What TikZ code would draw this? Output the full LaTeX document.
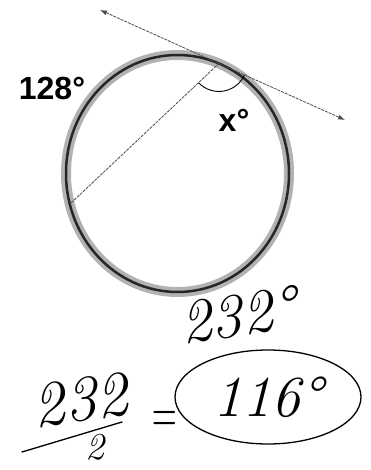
\documentclass[tikz,border=0pt]{standalone}
\usepackage{fontspec}
\newfontfamily\labelfont{Liberation Sans}
\usetikzlibrary{arrows.meta, positioning, shapes.geometric, calc}

\begin{document}
\begin{tikzpicture}[
    x=1pt, y=1pt,
    rim/.style={draw=gray!60, line width=10pt},
    rimcore/.style={draw=black!85, line width=2.5pt},
    thin/.style={draw=black!70, line width=0.8pt, dash pattern=on 3pt off 1pt},
    arrow/.style={{Latex[length=7pt,width=5pt]}-{Latex[length=7pt,width=5pt]}, thin},
    given/.style={font=\labelfont\bfseries\fontsize{32}{34}\selectfont, inner sep=0pt},
    hand/.style={font=\itshape\fontsize{62}{64}\selectfont, inner sep=0pt},
    ink/.style={draw=black, line width=1.3pt, line cap=round}
  ]
  \useasboundingbox (0,0) rectangle (370,470);

  % Circle and its points
  \coordinate (O) at (177.5,296.5);
  \draw[rim] (O) ellipse [x radius=111.5, y radius=118.5];
  \draw[rimcore] (O) ellipse [x radius=111.5, y radius=118.5];
  \coordinate (P) at ($(O)+({111.5*cos(68.2)},{118.5*sin(68.2)})$);
  \coordinate (Q) at ($(O)+({111.5*cos(195)},{118.5*sin(195)})$);
  \coordinate (tanL) at (100,460);
  \coordinate (tanR) at (345,350);

  % Tangent, chord and angle mark
  \draw[arrow] (tanL) -- (P) -- (tanR);
  \draw[thin] (P) -- (Q);
  \draw[draw=black, line width=0.9pt] ([shift={(224:28)}]P) arc[start angle=224, end angle=336, radius=28];

  % Given labels
  \node[given] (arc128) at (52,382) {128°};
  \node[given] (angx) at (234,350) {x°};

  % Working
  \node[hand, rotate=8] (total) at (238,155) {232°};
  \node[hand, rotate=8, font=\itshape\fontsize{64}{66}\selectfont] (num) at (80,70) {232};
  \coordinate (barL) at (22,18);
  \coordinate (barR) at (122,48);
  \draw[ink] (barL) -- (barR);
  \node[hand, font=\itshape\fontsize{38}{40}\selectfont] (den) at (95,23) {2};
  \node[hand, xscale=0.55, font=\fontsize{62}{64}\selectfont] (eq) at (165,48) {=};
  \node[ellipse, ink, minimum width=186, minimum height=94, hand, font=\itshape\fontsize{58}{60}\selectfont] (ans) at (268,73) {116°};
\end{tikzpicture}
\end{document}
